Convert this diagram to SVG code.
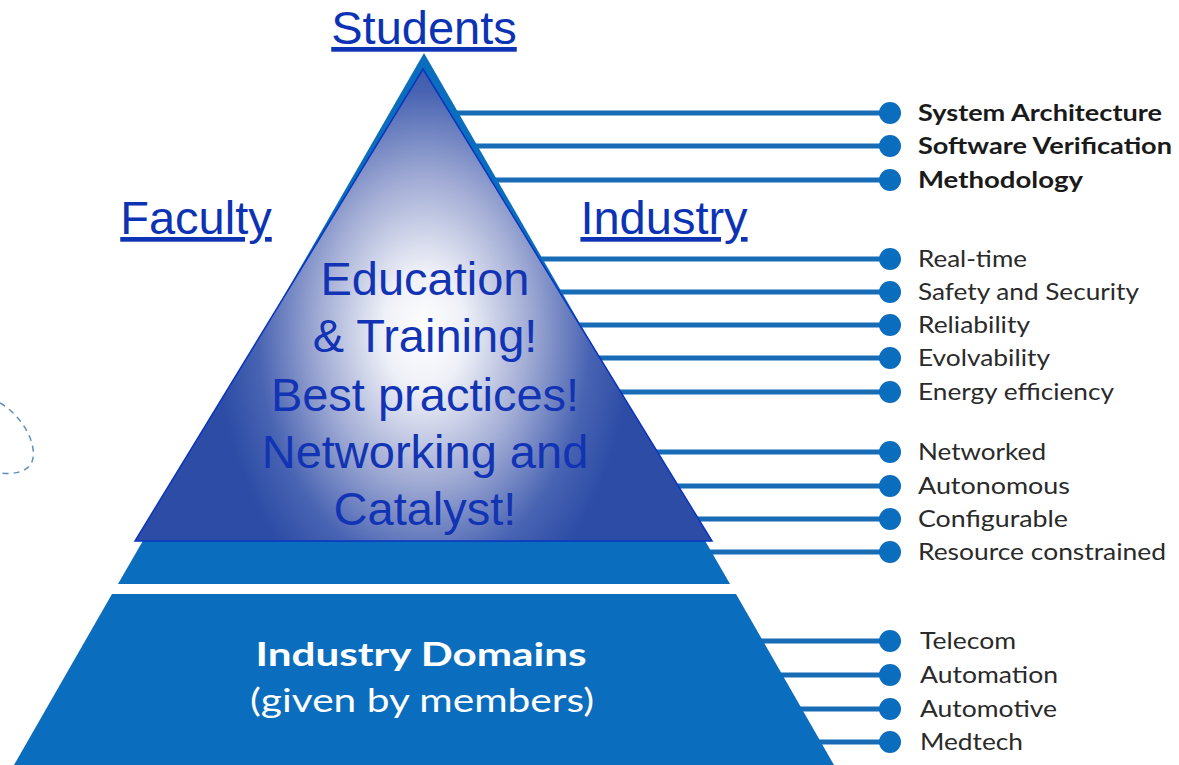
<svg xmlns="http://www.w3.org/2000/svg" width="1179" height="765" viewBox="0 0 1179 765">
<style>
.lbl{font-family:"Liberation Sans",Arial,sans-serif;font-size:47px;fill:#0d33b5;text-decoration:underline;text-anchor:middle}
.ctr{font-family:"Liberation Sans",Arial,sans-serif;font-size:47px;fill:#1234b4;text-anchor:middle}
.item{font-family:Lato,"Open Sans",sans-serif;font-size:23px;fill:#2a2a2a}
.bold{font-weight:bold;fill:#1a1a1a}
.dom{font-family:Lato,"Open Sans",sans-serif;font-size:32px;fill:#ffffff;text-anchor:middle}
.ln{stroke:#176cb5;stroke-width:5}
.dot{fill:#0b6dbd}
.band{fill:#0b6dbd}
</style>
<defs>
<radialGradient id="g" gradientUnits="userSpaceOnUse" cx="424" cy="330" r="260" gradientTransform="translate(424 330) scale(0.8 1.15) translate(-424 -330)">
<stop offset="0" stop-color="#ffffff"/>
<stop offset="0.2" stop-color="#eef0f7"/>
<stop offset="0.5" stop-color="#a3add5"/>
<stop offset="0.8" stop-color="#4863b2"/>
<stop offset="1" stop-color="#2c4ca5"/>
</radialGradient>
</defs>
<rect width="1179" height="765" fill="#ffffff"/>
<g id="connectors">
<line class="ln" x1="424" y1="113" x2="890" y2="113"/>
<line class="ln" x1="424" y1="146" x2="890" y2="146"/>
<line class="ln" x1="424" y1="180" x2="890" y2="180"/>
<line class="ln" x1="424" y1="259" x2="890" y2="259"/>
<line class="ln" x1="424" y1="292" x2="890" y2="292"/>
<line class="ln" x1="424" y1="325" x2="890" y2="325"/>
<line class="ln" x1="424" y1="358" x2="890" y2="358"/>
<line class="ln" x1="424" y1="392" x2="890" y2="392"/>
<line class="ln" x1="424" y1="452" x2="890" y2="452"/>
<line class="ln" x1="424" y1="486" x2="890" y2="486"/>
<line class="ln" x1="424" y1="519" x2="890" y2="519"/>
<line class="ln" x1="424" y1="552" x2="890" y2="552"/>
<line class="ln" x1="424" y1="641" x2="890" y2="641"/>
<line class="ln" x1="424" y1="675" x2="890" y2="675"/>
<line class="ln" x1="424" y1="709" x2="890" y2="709"/>
<line class="ln" x1="424" y1="742" x2="890" y2="742"/>
</g>
<g id="pyramid">
<polygon class="band" points="424,53 730,584 118,584"/>
<polygon class="band" points="112,594 736,594 834,765 14,765"/>
</g>
<g id="core">
<polygon points="423,69 712,541 135,541" fill="url(#g)" stroke="#0a35c0" stroke-width="1.5"/>
<text class="ctr" x="425" y="295">Education</text>
<text class="ctr" x="425" y="352">&amp; Training!</text>
<text class="ctr" x="425" y="411">Best practices!</text>
<text class="ctr" x="425" y="468">Networking and</text>
<text class="ctr" x="425" y="525">Catalyst!</text>
</g>
<g id="labels">
<text class="lbl" x="424" y="44">Students</text>
<text class="lbl" x="196" y="234">Faculty</text>
<text class="lbl" x="664" y="234">Industry</text>
</g>
<g id="domains">
<text class="dom" x="421" y="666" font-weight="bold" textLength="331" lengthAdjust="spacingAndGlyphs">Industry Domains</text>
<text class="dom" x="422" y="712" textLength="344" lengthAdjust="spacingAndGlyphs">(given by members)</text>
</g>
<g id="items">
<circle class="dot" cx="890" cy="113" r="11"/><text class="item bold" x="918" y="121" textLength="244" lengthAdjust="spacingAndGlyphs">System Architecture</text>
<circle class="dot" cx="890" cy="146" r="11"/><text class="item bold" x="918" y="154" textLength="254" lengthAdjust="spacingAndGlyphs">Software Verification</text>
<circle class="dot" cx="890" cy="180" r="11"/><text class="item bold" x="918" y="188" textLength="165" lengthAdjust="spacingAndGlyphs">Methodology</text>
<circle class="dot" cx="890" cy="259" r="11"/><text class="item" x="918" y="267" textLength="109" lengthAdjust="spacingAndGlyphs">Real-time</text>
<circle class="dot" cx="890" cy="292" r="11"/><text class="item" x="918" y="300" textLength="221" lengthAdjust="spacingAndGlyphs">Safety and Security</text>
<circle class="dot" cx="890" cy="325" r="11"/><text class="item" x="918" y="333" textLength="112" lengthAdjust="spacingAndGlyphs">Reliability</text>
<circle class="dot" cx="890" cy="358" r="11"/><text class="item" x="918" y="366" textLength="132" lengthAdjust="spacingAndGlyphs">Evolvability</text>
<circle class="dot" cx="890" cy="392" r="11"/><text class="item" x="918" y="400" textLength="196" lengthAdjust="spacingAndGlyphs">Energy efficiency</text>
<circle class="dot" cx="890" cy="452" r="11"/><text class="item" x="918" y="460" textLength="128" lengthAdjust="spacingAndGlyphs">Networked</text>
<circle class="dot" cx="890" cy="486" r="11"/><text class="item" x="918" y="494" textLength="152" lengthAdjust="spacingAndGlyphs">Autonomous</text>
<circle class="dot" cx="890" cy="519" r="11"/><text class="item" x="918" y="527" textLength="150" lengthAdjust="spacingAndGlyphs">Configurable</text>
<circle class="dot" cx="890" cy="552" r="11"/><text class="item" x="918" y="560" textLength="248" lengthAdjust="spacingAndGlyphs">Resource constrained</text>
<circle class="dot" cx="890" cy="641" r="11"/><text class="item" x="920" y="649" textLength="96" lengthAdjust="spacingAndGlyphs">Telecom</text>
<circle class="dot" cx="890" cy="675" r="11"/><text class="item" x="920" y="683" textLength="138" lengthAdjust="spacingAndGlyphs">Automation</text>
<circle class="dot" cx="890" cy="709" r="11"/><text class="item" x="920" y="717" textLength="137" lengthAdjust="spacingAndGlyphs">Automotive</text>
<circle class="dot" cx="890" cy="742" r="11"/><text class="item" x="920" y="750" textLength="103" lengthAdjust="spacingAndGlyphs">Medtech</text>
</g>
<g id="fragment">
<path d="M0,403 C18,413 36,438 33,458 C31,471 16,475 0,473" fill="none" stroke="#5b8fc0" stroke-width="1.5" stroke-dasharray="6 5"/>
</g>
</svg>
